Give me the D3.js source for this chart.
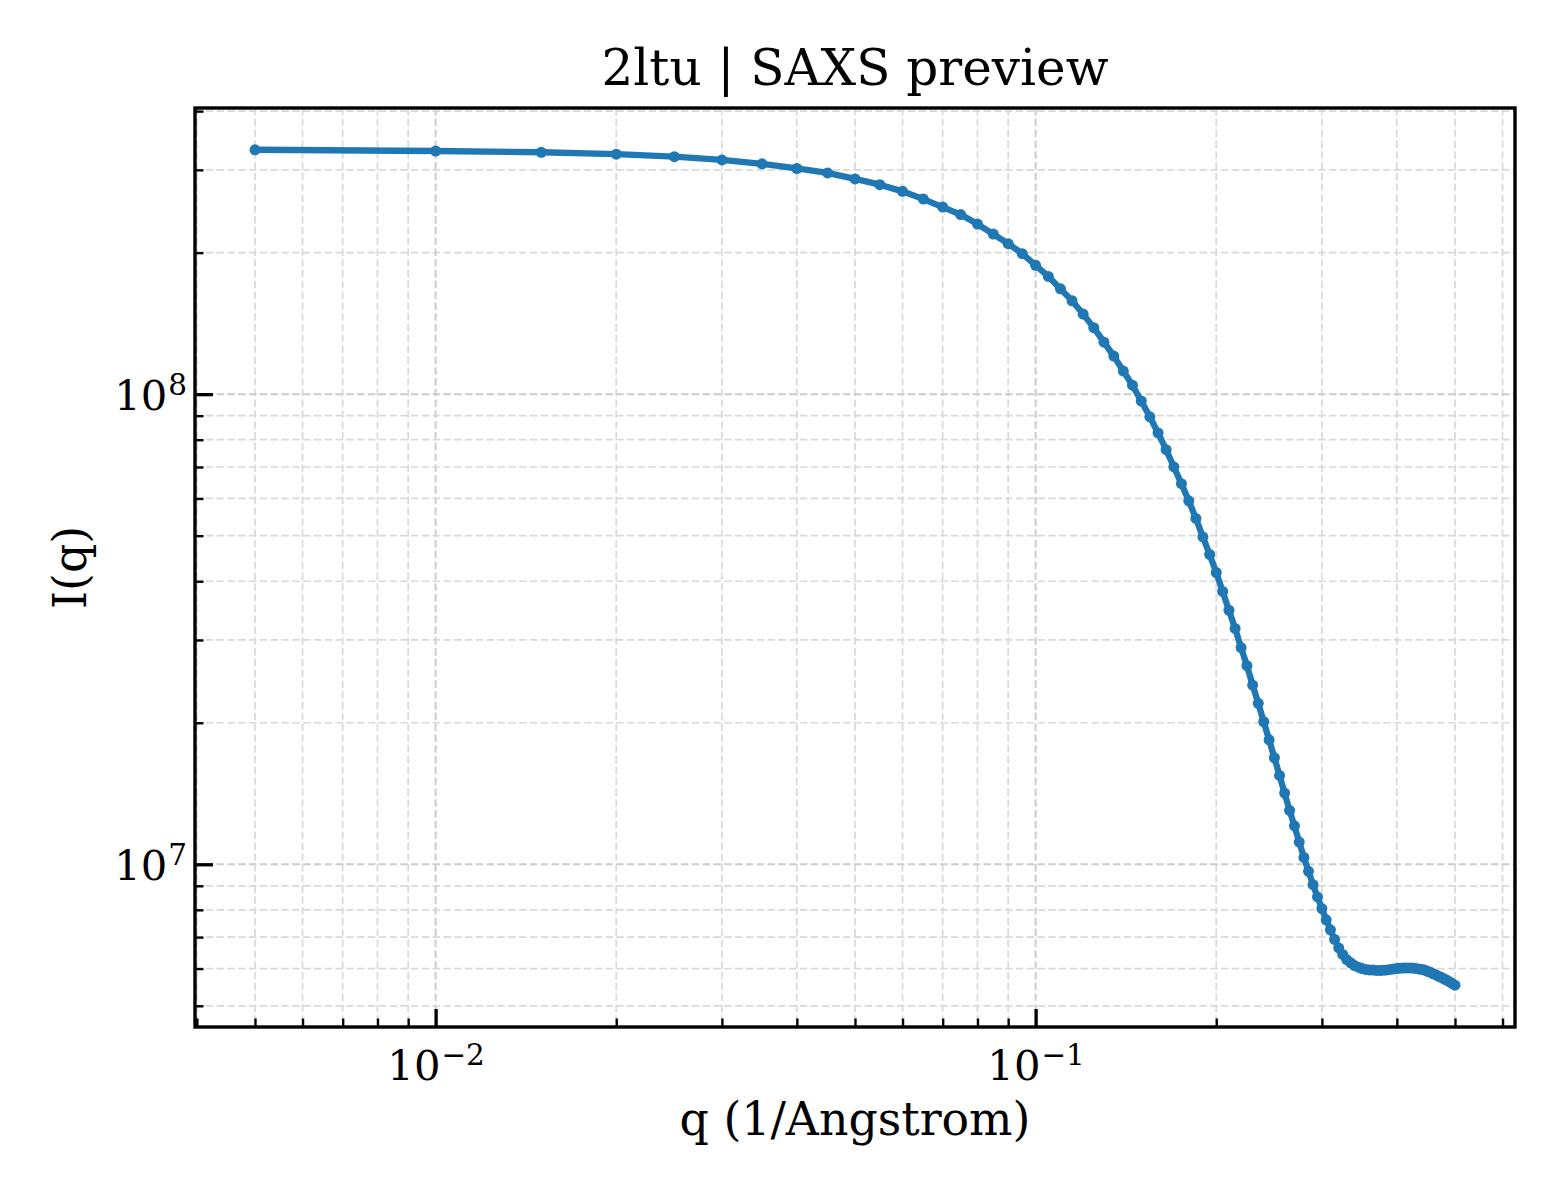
<!DOCTYPE html>
<html>
<head>
<meta charset="utf-8">
<script src="https://cdn.jsdelivr.net/npm/d3@7"></script>
<style>
  body { margin: 0; background: #fff; }
  svg { display: block; }
</style>
</head>
<body>
<div id="chart"></div>
<script>
// SAXS profile
const qValues = [
  0.005, 0.010, 0.015, 0.020, 0.025, 0.030, 0.035, 0.040, 0.045, 0.050,
  0.055, 0.060, 0.065, 0.070, 0.075, 0.080, 0.085, 0.090, 0.095, 0.100,
  0.105, 0.110, 0.115, 0.120, 0.125, 0.130, 0.135, 0.140, 0.145, 0.150,
  0.155, 0.160, 0.165, 0.170, 0.175, 0.180, 0.185, 0.190, 0.195, 0.200,
  0.205, 0.210, 0.215, 0.220, 0.225, 0.230, 0.235, 0.240, 0.245, 0.250,
  0.255, 0.260, 0.265, 0.270, 0.275, 0.280, 0.285, 0.290, 0.295, 0.300,
  0.305, 0.310, 0.315, 0.320, 0.325, 0.330, 0.335, 0.340, 0.345, 0.350,
  0.355, 0.360, 0.365, 0.370, 0.375, 0.380, 0.385, 0.390, 0.395, 0.400,
  0.405, 0.410, 0.415, 0.420, 0.425, 0.430, 0.435, 0.440, 0.445, 0.450,
  0.455, 0.460, 0.465, 0.470, 0.475, 0.480, 0.485, 0.490, 0.495, 0.500
];

const intensityValues = [
  3.31e8, 3.29e8, 3.27e8, 3.24e8, 3.20e8, 3.15e8, 3.09e8, 3.02e8, 2.955e8, 2.87e8,
  2.79e8, 2.70e8, 2.60e8, 2.50e8, 2.41e8, 2.30e8, 2.19e8, 2.09e8, 1.99e8, 1.88e8,
  1.78e8, 1.675e8, 1.58e8, 1.48e8, 1.385e8, 1.29e8, 1.205e8, 1.12e8, 1.045e8, 9.67e7,
  8.95e7, 8.27e7, 7.62e7, 7.00e7, 6.45e7, 5.93e7, 5.44e7, 4.97e7, 4.56e7, 4.175e7,
  3.805e7, 3.47e7, 3.175e7, 2.89e7, 2.645e7, 2.405e7, 2.20e7, 2.01e7, 1.84e7, 1.685e7,
  1.545e7, 1.417e7, 1.302e7, 1.207e7, 1.115e7, 1.034e7, 9.66e6, 9.05e6, 8.52e6, 8.05e6,
  7.62e6, 7.255e6, 6.92e6, 6.64e6, 6.43e6, 6.27e6, 6.17e6, 6.09e6, 6.04e6, 6.00e6,
  5.975e6, 5.96e6, 5.955e6, 5.945e6, 5.945e6, 5.95e6, 5.96e6, 5.975e6, 5.99e6, 6.00e6,
  6.01e6, 6.015e6, 6.02e6, 6.02e6, 6.015e6, 6.005e6, 5.99e6, 5.975e6, 5.955e6, 5.92e6,
  5.89e6, 5.85e6, 5.815e6, 5.775e6, 5.74e6, 5.70e6, 5.665e6, 5.62e6, 5.575e6, 5.53e6
];

const xMajorTicks = [0.01, 0.1];
const yMajorTicks = [1e7, 1e8];

const titleText = '2ltu | SAXS preview';
const xLabelText = 'q (1/Angstrom)';
const yLabelText = 'I(q)';

const width = 1560;
const height = 1200;
const margin = { top: 108, right: 45, bottom: 173, left: 195 };
const plotW = width - margin.left - margin.right;
const plotH = height - margin.top - margin.bottom;
const font = '"DejaVu Serif", "Liberation Serif", serif';
const blue = '#1f77b4';

// log domain with 5% padding, like matplotlib autoscale
function paddedLogDomain(values) {
  const lo = Math.log10(d3.min(values));
  const hi = Math.log10(d3.max(values));
  const pad = (hi - lo) * 0.05;
  return [Math.pow(10, lo - pad), Math.pow(10, hi + pad)];
}

const xScale = d3.scaleLog()
  .domain(paddedLogDomain(qValues))
  .range([0, plotW]);

const yScale = d3.scaleLog()
  .domain(paddedLogDomain(intensityValues))
  .range([plotH, 0]);

const isMajor = v => Math.abs(Math.log10(v) - Math.round(Math.log10(v))) < 1e-9;
const xMinorTicks = xScale.ticks().filter(v => !isMajor(v));
const yMinorTicks = yScale.ticks().filter(v => !isMajor(v));

const svg = d3.select('#chart')
  .append('svg')
  .attr('width', width)
  .attr('height', height)
  .style('background', '#fff');

const plot = svg.append('g')
  .attr('transform', `translate(${margin.left},${margin.top})`);

// grid lines (major + minor, dashed)
const grid = plot.append('g');

grid.selectAll('line.gx')
  .data(xMinorTicks.concat(xMajorTicks))
  .enter().append('line')
  .attr('x1', d => xScale(d)).attr('x2', d => xScale(d))
  .attr('y1', 0).attr('y2', plotH)
  .attr('stroke', d => isMajor(d) ? '#cccccc' : '#d9d9d9')
  .attr('stroke-width', d => isMajor(d) ? 2 : 1.7)
  .attr('stroke-dasharray', '7.5,3.3');

grid.selectAll('line.gy')
  .data(yMinorTicks.concat(yMajorTicks))
  .enter().append('line')
  .attr('x1', 0).attr('x2', plotW)
  .attr('y1', d => yScale(d)).attr('y2', d => yScale(d))
  .attr('stroke', d => isMajor(d) ? '#cccccc' : '#d9d9d9')
  .attr('stroke-width', d => isMajor(d) ? 2 : 1.7)
  .attr('stroke-dasharray', '7.5,3.3');

// curve and markers
const points = qValues.map((q, i) => ({ q: q, I: intensityValues[i] }));

const line = d3.line()
  .x(d => xScale(d.q))
  .y(d => yScale(d.I));

plot.append('path')
  .datum(points)
  .attr('fill', 'none')
  .attr('stroke', blue)
  .attr('stroke-width', 6.3)
  .attr('stroke-linejoin', 'round')
  .attr('d', line);

plot.append('g')
  .selectAll('circle')
  .data(points)
  .enter().append('circle')
  .attr('cx', d => xScale(d.q))
  .attr('cy', d => yScale(d.I))
  .attr('r', 5.5)
  .attr('fill', blue);

// inward ticks
function styleAxis(g, w) {
  g.select('.domain').remove();
  g.selectAll('line').attr('stroke', '#000').attr('stroke-width', w);
}

plot.append('g')
  .attr('transform', `translate(0,${plotH})`)
  .call(d3.axisBottom(xScale).tickValues(xMinorTicks).tickSize(-8.5).tickFormat(''))
  .call(g => styleAxis(g, 2.4));

plot.append('g')
  .call(d3.axisLeft(yScale).tickValues(yMinorTicks).tickSize(-8.5).tickFormat(''))
  .call(g => styleAxis(g, 2.4));

const xAxis = plot.append('g')
  .attr('transform', `translate(0,${plotH})`)
  .call(d3.axisBottom(xScale).tickValues(xMajorTicks).tickSize(-18).tickFormat(''))
  .call(g => styleAxis(g, 3.3));

const yAxis = plot.append('g')
  .call(d3.axisLeft(yScale).tickValues(yMajorTicks).tickSize(-18).tickFormat(''))
  .call(g => styleAxis(g, 3.3));

// 10^n tick labels
function powerLabel(sel, v) {
  const exp = Math.round(Math.log10(v));
  sel.append('tspan').text('10');
  sel.append('tspan')
    .attr('dx', 1)
    .attr('dy', -15)
    .attr('font-size', 29.5)
    .text(exp < 0 ? '\u2212' + Math.abs(exp) : String(exp));
}

xAxis.selectAll('.tick').each(function (d) {
  const t = d3.select(this).append('text')
    .attr('x', 0)
    .attr('y', 53)
    .attr('text-anchor', 'middle')
    .attr('font-family', font)
    .attr('font-size', 41.7)
    .attr('fill', '#000');
  powerLabel(t, d);
});

yAxis.selectAll('.tick').each(function (d) {
  const t = d3.select(this).append('text')
    .attr('x', -8)
    .attr('y', 15)
    .attr('text-anchor', 'end')
    .attr('font-family', font)
    .attr('font-size', 41.7)
    .attr('fill', '#000');
  powerLabel(t, d);
});

// axes frame
plot.append('rect')
  .attr('x', 0).attr('y', 0)
  .attr('width', plotW).attr('height', plotH)
  .attr('fill', 'none')
  .attr('stroke', '#000')
  .attr('stroke-width', 3.4);

// title and axis labels
svg.append('text')
  .attr('x', margin.left + plotW / 2)
  .attr('y', 85)
  .attr('text-anchor', 'middle')
  .attr('font-family', font)
  .attr('font-size', 50)
  .attr('fill', '#000')
  .text(titleText);

svg.append('text')
  .attr('x', margin.left + plotW / 2)
  .attr('y', 1135)
  .attr('text-anchor', 'middle')
  .attr('font-family', font)
  .attr('font-size', 45.8)
  .attr('fill', '#000')
  .text(xLabelText);

svg.append('text')
  .attr('transform', `translate(86,${margin.top + plotH / 2}) rotate(-90)`)
  .attr('text-anchor', 'middle')
  .attr('font-family', font)
  .attr('font-size', 45.8)
  .attr('fill', '#000')
  .text(yLabelText);
</script>
</body>
</html>
